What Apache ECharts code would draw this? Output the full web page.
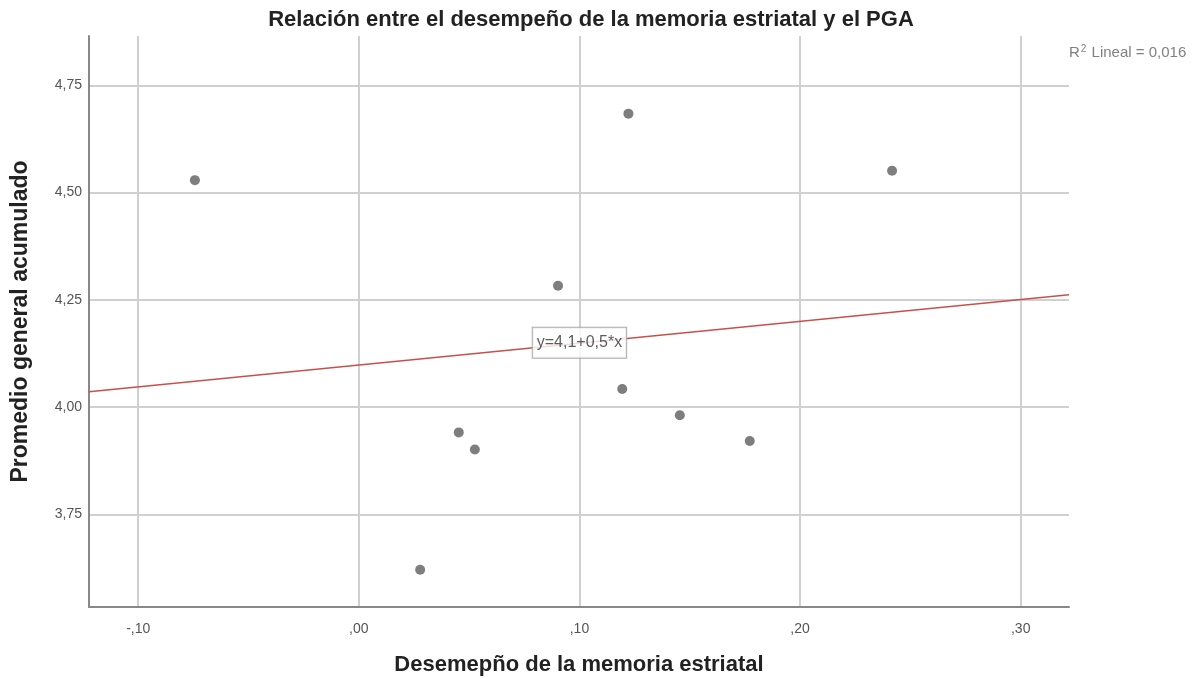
<!DOCTYPE html>
<html><head><meta charset="utf-8">
<script src="https://cdn.jsdelivr.net/npm/echarts@6/dist/echarts.min.js"></script>
<style>html,body{margin:0;padding:0;background:#fff}#c{width:1199px;height:679px}</style>
</head><body><div id="c"></div>
<script>
const xValues = [-0.0743, 0.1222, 0.2417, 0.0903, 0.1194, 0.1455, 0.1772, 0.0453, 0.0526, 0.0278];
const yValues = [4.529, 4.684, 4.551, 4.283, 4.042, 3.981, 3.921, 3.941, 3.901, 3.621];
const fitLineX = [-0.1223, 0.3219];
const fitLineY = [4.036, 4.262];
const fitLabelPos = [0.10, 4.150];
const fitLabelText = 'y=4,1+0,5*x';
const xTicks = [-0.1, 0, 0.1, 0.2, 0.3];
const yTicks = [3.75, 4.0, 4.25, 4.5, 4.75];
const xRange = [-0.1223, 0.3219];
const yRange = [3.534, 4.865];
const titleText = 'Relación entre el desempeño de la memoria estriatal y el PGA';
const xName = 'Desemepño de la memoria estriatal';
const yName = 'Promedio general acumulado';
const r2Text = '0,016';

const fmtX = v => { const s = Math.abs(v).toFixed(2).replace('.', ',').replace(/^0/, ''); return (v < -1e-9 ? '-' : '') + s; };
const fmtY = v => v.toFixed(2).replace('.', ',');
const FONT = '"Liberation Sans", Arial, sans-serif';

const chart = echarts.init(document.getElementById('c'), null, {renderer: 'canvas'});
chart.setOption({
  backgroundColor: '#fff',
  animation: false,
  textStyle: {fontFamily: FONT},
  title: [{
    text: titleText, left: 586, top: 4, textAlign: 'center',
    textStyle: {fontFamily: FONT, fontSize: 22, fontWeight: 'bold', color: '#222'}
  }, {
    text: '{a|R}{s|2}{a| Lineal = ' + r2Text + '}', left: 1064, top: 39,
    textStyle: {rich: {
      a: {fontFamily: FONT, fontSize: 15, fontWeight: 'normal', color: '#808080'},
      s: {fontFamily: FONT, fontSize: 10, fontWeight: 'normal', color: '#808080', verticalAlign: 'top', padding: [0,1,8,1]}
    }}
  }],
  grid: {left: 89, top: 36, right: 130, bottom: 72, containLabel: false, outerBoundsMode: 'none'},
  xAxis: {
    type: 'value', min: xRange[0], max: xRange[1],
    name: xName, nameLocation: 'middle', nameGap: 47,
    nameTextStyle: {fontFamily: FONT, fontSize: 22, fontWeight: 'bold', color: '#222'},
    axisLine: {show: true, onZero: false, lineStyle: {color: '#888', width: 2}},
    axisTick: {show: false, customValues: xTicks},
    axisLabel: {customValues: xTicks, formatter: fmtX, color: '#555', fontSize: 14, margin: 15, fontFamily: FONT},
    splitLine: {show: true, lineStyle: {color: '#d0d0d0', width: 2}}
  },
  yAxis: {
    type: 'value', min: yRange[0], max: yRange[1],
    name: yName, nameLocation: 'middle', nameGap: 57,
    nameTextStyle: {fontFamily: FONT, fontSize: 23, fontWeight: 'bold', color: '#222'},
    axisLine: {show: true, onZero: false, lineStyle: {color: '#888', width: 2}},
    axisTick: {show: false, customValues: yTicks},
    axisLabel: {customValues: yTicks, formatter: fmtY, color: '#555', fontSize: 14, margin: 7, fontFamily: FONT},
    splitLine: {show: true, lineStyle: {color: '#d0d0d0', width: 2}}
  },
  series: [{
    type: 'line', data: fitLineX.map((x, i) => [x, fitLineY[i]]),
    symbol: 'none', lineStyle: {color: '#c8504c', width: 1.5}, silent: true, z: 3
  }, {
    type: 'scatter', data: xValues.map((x, i) => [x, yValues[i]]),
    symbol: 'circle', symbolSize: 10, itemStyle: {color: '#5e5e5e'}, z: 4
  }, {
    type: 'scatter', data: [fitLabelPos], symbolSize: 1, itemStyle: {color: 'rgba(0,0,0,0)'}, z: 5,
    label: {show: true, position: 'inside', formatter: fitLabelText, fontFamily: FONT, fontSize: 16, lineHeight: 20, color: '#333',
      backgroundColor: '#fff', borderColor: '#999', borderWidth: 1, padding: [5, 4, 5, 4]}
  }]
});
</script></body></html>
